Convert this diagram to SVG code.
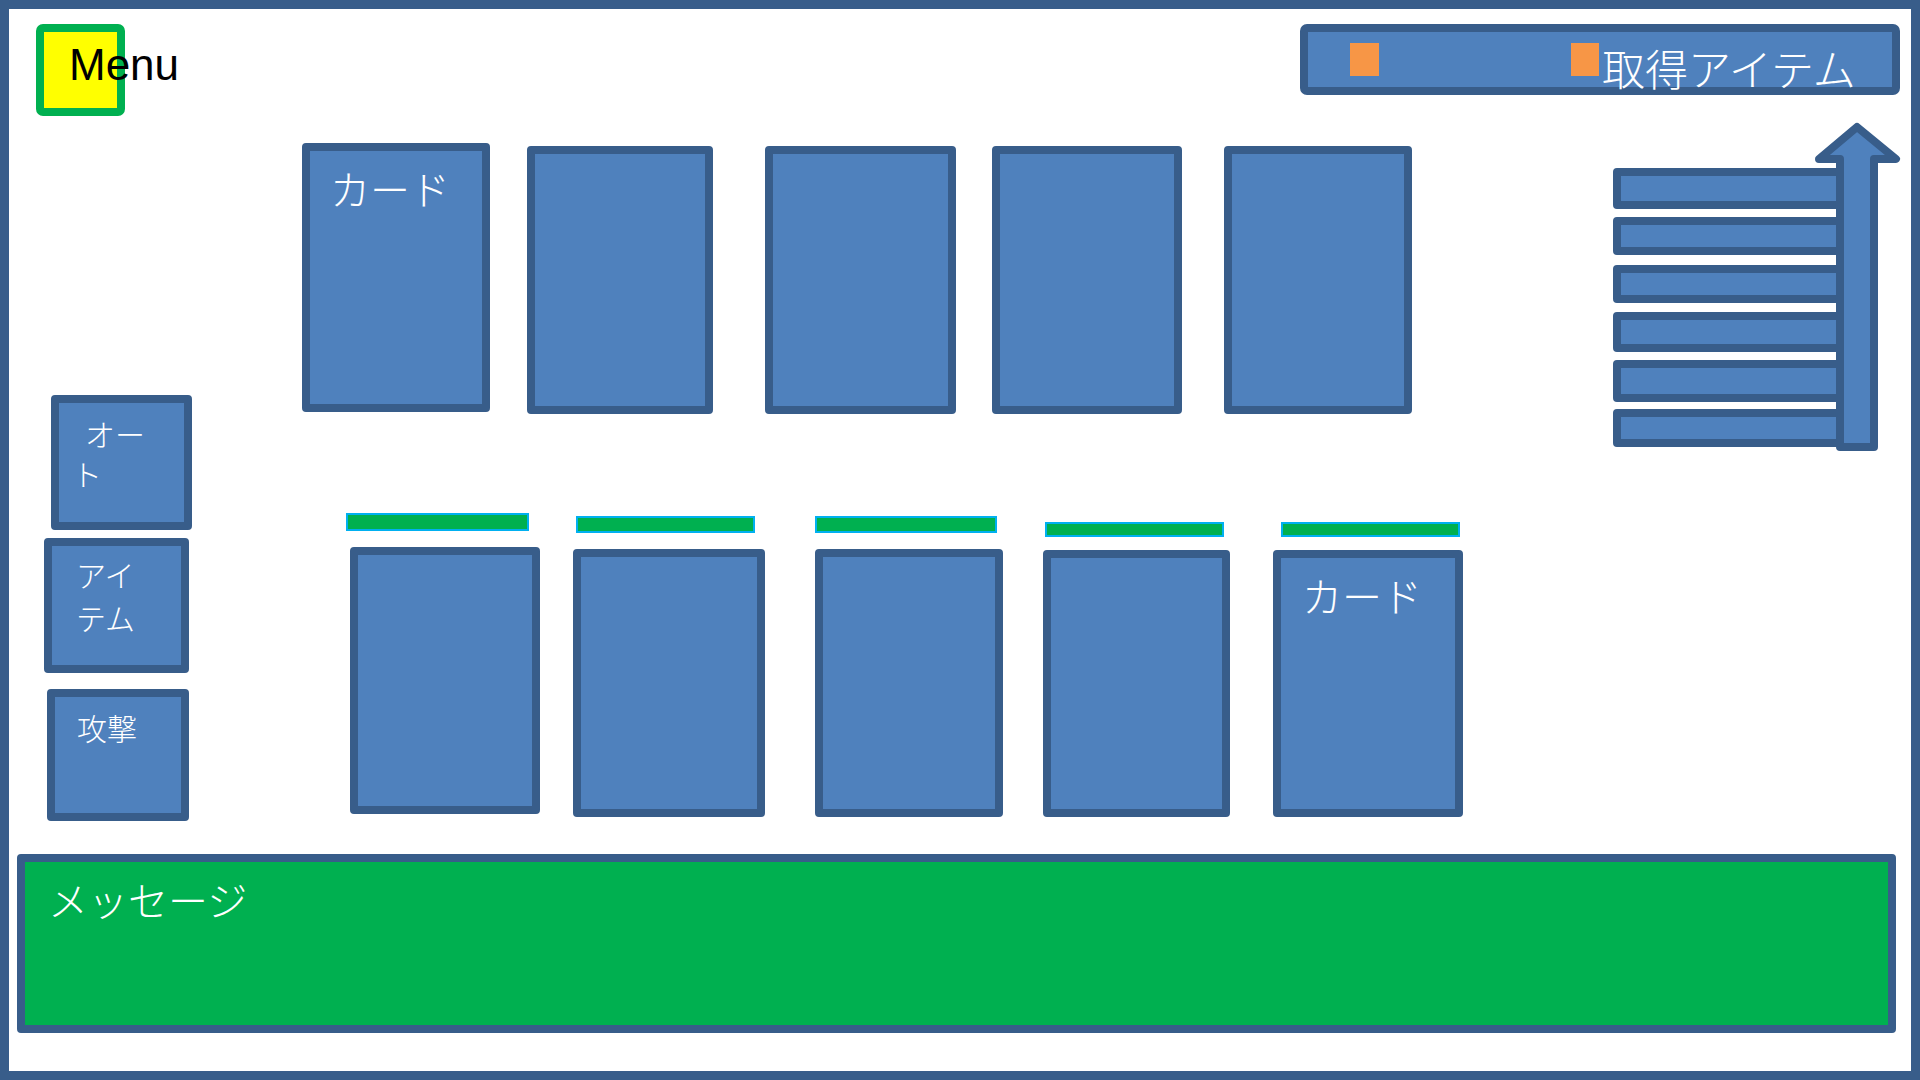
<svg xmlns="http://www.w3.org/2000/svg" width="1920" height="1080" viewBox="0 0 1920 1080">
  <style>
    .frame { fill: #ffffff; stroke: #385d8a; stroke-width: 9; }
    .shape { fill: #4f81bd; stroke: #385d8a; stroke-width: 8; stroke-linejoin: round; }
    .msg { fill: #00b050; stroke: #385d8a; stroke-width: 8; stroke-linejoin: round; }
    .hp { fill: #00b050; stroke: #00b0f0; stroke-width: 2; }
    .orange { fill: #f79646; }
    .jp { font-family: "Noto Sans CJK JP", "Noto Sans", sans-serif; font-weight: 300; fill: #ffffff; }
    .menu-text { font-family: "Liberation Sans", Arial, sans-serif; font-size: 44px; fill: #000000; }
  </style>

  <g id="screen">
    <rect class="frame" x="4.5" y="4.5" width="1911" height="1071"/>
  </g>

  <g id="menu">
    <rect x="40" y="28" width="81" height="84" rx="3" fill="#ffff00" stroke="#00b050" stroke-width="8"/>
    <text class="menu-text" x="69" y="80">Menu</text>
  </g>

  <g id="acquired-items">
    <rect class="shape" x="1304" y="28" width="592" height="63" rx="3"/>
    <rect class="orange" x="1350" y="43" width="29" height="33"/>
    <rect class="orange" x="1571" y="43" width="28" height="33"/>
    <text class="jp" x="1602" y="86" font-size="43">取得アイテム</text>
  </g>

  <g id="card-top-1">
    <rect class="shape" x="306" y="147" width="180" height="261"/>
    <text class="jp" x="330" y="205" font-size="40">カード</text>
  </g>
  <g id="card-top-2"><rect class="shape" x="531" y="150" width="178" height="260"/></g>
  <g id="card-top-3"><rect class="shape" x="769" y="150" width="183" height="260"/></g>
  <g id="card-top-4"><rect class="shape" x="996" y="150" width="182" height="260"/></g>
  <g id="card-top-5"><rect class="shape" x="1228" y="150" width="180" height="260"/></g>

  <g id="card-bottom-1">
    <rect class="hp" x="347" y="514" width="181" height="16"/>
    <rect class="shape" x="354" y="551" width="182" height="259"/>
  </g>
  <g id="card-bottom-2">
    <rect class="hp" x="577" y="517" width="177" height="15"/>
    <rect class="shape" x="577" y="553" width="184" height="260"/>
  </g>
  <g id="card-bottom-3">
    <rect class="hp" x="816" y="517" width="180" height="15"/>
    <rect class="shape" x="819" y="553" width="180" height="260"/>
  </g>
  <g id="card-bottom-4">
    <rect class="hp" x="1046" y="523" width="177" height="13"/>
    <rect class="shape" x="1047" y="554" width="179" height="259"/>
  </g>
  <g id="card-bottom-5">
    <rect class="hp" x="1282" y="523" width="177" height="13"/>
    <rect class="shape" x="1277" y="554" width="182" height="259"/>
    <text class="jp" x="1302" y="612" font-size="40">カード</text>
  </g>

  <g id="btn-auto">
    <rect class="shape" x="55" y="399" width="133" height="127"/>
    <text class="jp" x="85" y="446" font-size="30">オー</text>
    <text class="jp" x="72" y="486" font-size="30">ト</text>
  </g>
  <g id="btn-item">
    <rect class="shape" x="48" y="542" width="137" height="127"/>
    <text class="jp" x="76" y="587" font-size="30">アイ</text>
    <text class="jp" x="76" y="630" font-size="30">テム</text>
  </g>
  <g id="btn-attack">
    <rect class="shape" x="51" y="693" width="134" height="124"/>
    <text class="jp" x="77" y="740" font-size="30">攻撃</text>
  </g>

  <g id="item-list">
    <rect class="shape" x="1617" y="172" width="225" height="33"/>
    <rect class="shape" x="1617" y="221" width="225" height="30"/>
    <rect class="shape" x="1617" y="269" width="225" height="30"/>
    <rect class="shape" x="1617" y="316" width="225" height="32"/>
    <rect class="shape" x="1617" y="364" width="225" height="34"/>
    <rect class="shape" x="1617" y="413" width="225" height="30"/>
  </g>

  <g id="connectors">
    <path class="shape" d="M1840,447 L1840,159 L1819,159 L1857,127 L1896,159 L1874,159 L1874,447 Z"/>
  </g>

  <g id="message">
    <rect class="msg" x="21" y="858" width="1871" height="171"/>
    <text class="jp" x="48" y="916" font-size="40">メッセージ</text>
  </g>
</svg>
